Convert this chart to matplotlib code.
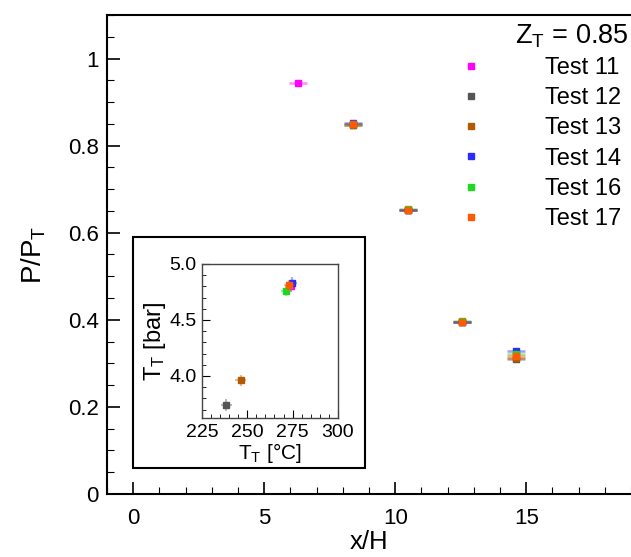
import matplotlib
matplotlib.use("Agg")
import matplotlib.pyplot as plt
from matplotlib.patches import Rectangle
from matplotlib.ticker import MultipleLocator, FormatStrFormatter, FuncFormatter

plt.rcParams["font.family"] = ["Liberation Sans", "DejaVu Sans"]
plt.rcParams["mathtext.fontset"] = "custom"
plt.rcParams["mathtext.rm"] = "Liberation Sans"
plt.rcParams["mathtext.it"] = "Liberation Sans"

tests = ["Test 11", "Test 12", "Test 13", "Test 14", "Test 16", "Test 17"]
colors = ["#ff00ff", "#555555", "#b35900", "#2b2bff", "#1fd81f", "#ff5a00"]

# pressure ratio along the channel
x_pos = {
    "Test 11": [6.3],
    "Test 12": [8.4, 10.5, 12.55, 14.6],
    "Test 13": [8.4, 10.5, 12.55, 14.6],
    "Test 14": [8.4, 10.5, 12.55, 14.6],
    "Test 16": [8.4, 10.5, 12.55, 14.6],
    "Test 17": [8.4, 10.5, 12.55, 14.6],
}
p_ratio = {
    "Test 11": [0.943],
    "Test 12": [0.848, 0.652, 0.394, 0.310],
    "Test 13": [0.848, 0.653, 0.396, 0.313],
    "Test 14": [0.852, 0.652, 0.395, 0.328],
    "Test 16": [0.849, 0.654, 0.397, 0.322],
    "Test 17": [0.849, 0.652, 0.396, 0.317],
}
x_err = 0.35
p_err = 0.006

# total temperature / pressure of each test
t_total = [274.0, 238.5, 246.5, 274.5, 271.5, 273.0]
p_total = [4.80, 3.74, 3.96, 4.83, 4.76, 4.81]
t_err = 3.0
pt_err = 0.05

fig = plt.figure(figsize=(6.31, 5.57), dpi=100)
ax = fig.add_axes([0.1696, 0.1131, 0.8304, 0.86])

# Test 14 goes last so its marker sits on top of the shared points
order = [0, 1, 2, 4, 5, 3]
for i in order:
    name, c = tests[i], colors[i]
    ax.errorbar(x_pos[name], p_ratio[name], xerr=x_err, yerr=p_err, fmt="none",
                ecolor=c, alpha=0.45, elinewidth=1.8, capsize=0, zorder=2)
    ax.plot(x_pos[name], p_ratio[name], ls="none", marker="s", ms=4.6,
            color=c, mec=c, zorder=3 + i / 10)

ax.set_xlim(-1, 19)
ax.set_ylim(0, 1.1)
ax.xaxis.set_major_locator(MultipleLocator(5))
ax.xaxis.set_minor_locator(MultipleLocator(1))
ax.yaxis.set_major_locator(MultipleLocator(0.2))
ax.yaxis.set_minor_locator(MultipleLocator(0.05))
ax.yaxis.set_major_formatter(FuncFormatter(lambda v, p: f"{v:g}"))
ax.tick_params(which="both", direction="in", top=False, right=False, labelsize=16, width=1.2)
ax.tick_params(which="major", length=9)
ax.tick_params(which="minor", length=5, width=0.8)
ax.tick_params(axis="x", which="major", pad=10)
ax.tick_params(axis="y", which="major", pad=6)
for s in ax.spines.values():
    s.set_linewidth(1.5)
ax.spines["right"].set_visible(False)
ax.set_xlabel("x/H", fontsize=18.5, labelpad=1)
ax.set_ylabel("P/P$_\\mathregular{T}$", fontsize=20, labelpad=14)

ax.text(0.995, 0.985, "Z$_\\mathregular{T}$ = 0.85", transform=ax.transAxes,
        ha="right", va="top", fontsize=19.5)
handles = [plt.Line2D([], [], ls="none", marker="s", ms=4.6, color=c) for c in colors]
ax.legend(handles, tests, loc="upper right", bbox_to_anchor=(1.012, 0.947), frameon=False,
          fontsize=17, handlelength=1.6, handletextpad=2.3,
          labelspacing=0.35, borderpad=0.2)

# inset with total conditions
fig.add_artist(Rectangle((0.2108, 0.1598), 0.3677, 0.4147, transform=fig.transFigure,
                         fill=True, facecolor="white", edgecolor="black", lw=1.5, zorder=4))
axi = fig.add_axes([0.320, 0.2496, 0.2155, 0.2765], zorder=5)
for name, c, t, p in zip(tests, colors, t_total, p_total):
    axi.errorbar([t], [p], xerr=t_err, yerr=pt_err, fmt="none", ecolor=c,
                 alpha=0.4, elinewidth=1.5, capsize=0)
    axi.plot([t], [p], ls="none", marker="s", ms=4.5, color=c)
axi.set_xlim(225, 300)
axi.set_ylim(3.625, 5.0)
axi.xaxis.set_major_locator(MultipleLocator(25))
axi.xaxis.set_minor_locator(MultipleLocator(5))
axi.yaxis.set_major_locator(MultipleLocator(0.5))
axi.yaxis.set_minor_locator(MultipleLocator(0.1))
axi.yaxis.set_major_formatter(FormatStrFormatter("%.1f"))
axi.tick_params(which="both", direction="in", labelsize=14, top=False, right=False)
axi.tick_params(which="major", length=6, pad=4)
axi.tick_params(which="minor", length=3, width=0.6)
for s in axi.spines.values():
    s.set_linewidth(1.0)
    s.set_color("#444444")
axi.set_xlabel("T$_\\mathregular{T}$ [°C]", fontsize=15, labelpad=0)
axi.set_ylabel("T$_\\mathregular{T}$ [bar]", fontsize=17, labelpad=1)

fig.savefig("out.png", dpi=100)
